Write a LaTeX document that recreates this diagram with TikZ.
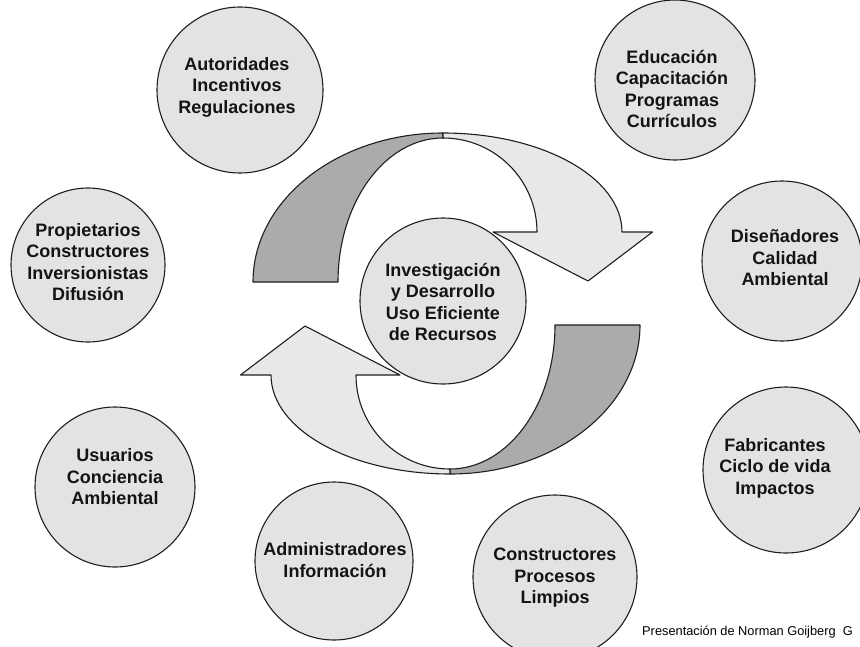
\documentclass[tikz,border=0pt]{standalone}
\usepackage{fontspec}
\setmainfont{Liberation Sans}
\tikzset{
  bubble/.style={circle,draw=black!88,line width=1.1pt,fill=black!11,inner sep=0pt},
  btext/.style={font=\bfseries\fontsize{18}{21.5}\selectfont,align=center,text=black!92},
  darkband/.style={draw=black!88,line width=1.1pt,fill=black!33,line join=round},
  lightband/.style={draw=black!88,line width=1.1pt,fill=black!9,line join=round},
  ribbon/.pic={
    \path[darkband] (-193.5,21.5) arc[start angle=180,end angle=90,x radius=190,y radius=149]
      -- (-3.5,165.5) arc[start angle=90,end angle=180,x radius=105,y radius=144] -- cycle;
    \path[lightband] (-3.5,170.5) arc[start angle=90,end angle=0,x radius=179,y radius=99]
      -- (206,71.5) -- (141.5,22.5) -- (46.5,71.5) -- (90.5,71.5)
      arc[start angle=0,end angle=90,x radius=94,y radius=94] -- cycle;
  }
}
\begin{document}
\begin{tikzpicture}[x=1pt,y=1pt]
\useasboundingbox (0,0) rectangle (860,-646);
\clip (0,0) rectangle (860,-646);
\fill[white] (0,0) rectangle (860,-646);
\coordinate (C) at (446.5,-303.5);
% ribbons
\pic at (C) {ribbon};
\pic[rotate=180] at (C) {ribbon};
% circles
\node[bubble,minimum size=166pt] (auto) at (240,-90) {};
\node[btext] (autot) at (237,-87) {Autoridades\\Incentivos\\Regulaciones};
\node[bubble,minimum size=160pt] (edu) at (675,-80) {};
\node[btext] (edut) at (672,-89) {Educación\\Capacitación\\Programas\\Currículos};
\node[bubble,minimum size=154pt] (prop) at (88,-265) {};
\node[btext] (propt) at (88,-262) {Propietarios\\Constructores\\Inversionistas\\Difusión};
\node[bubble,minimum size=160pt] (dise) at (782,-261) {};
\node[btext] (diset) at (785,-258) {Diseñadores\\Calidad\\Ambiental};
\node[bubble,minimum size=166pt] (cent) at (443,-301) {};
\node[btext] (centt) at (443,-302) {Investigación\\y Desarrollo\\Uso Eficiente\\de Recursos};
\node[bubble,minimum size=160pt] (usu) at (115,-487) {};
\node[btext] (usut) at (115,-477) {Usuarios\\Conciencia\\Ambiental};
\node[bubble,minimum size=166pt] (fab) at (786,-470) {};
\node[btext] (fabt) at (775,-468) {Fabricantes\\Ciclo de vida\\Impactos};
\node[bubble,minimum size=158pt] (adm) at (334,-561) {};
\node[btext] (admt) at (335,-560) {Administradores\\Información};
\node[bubble,minimum size=164pt] (cons) at (555,-577) {};
\node[btext] (const) at (555,-578) {Constructores\\Procesos\\Limpios};
% footer
\node[anchor=base west,inner sep=0pt,font=\fontsize{12.8}{14}\selectfont] (foot) at (642,-635) {Presentación de Norman Goijberg\ \ G};
\end{tikzpicture}
\end{document}
